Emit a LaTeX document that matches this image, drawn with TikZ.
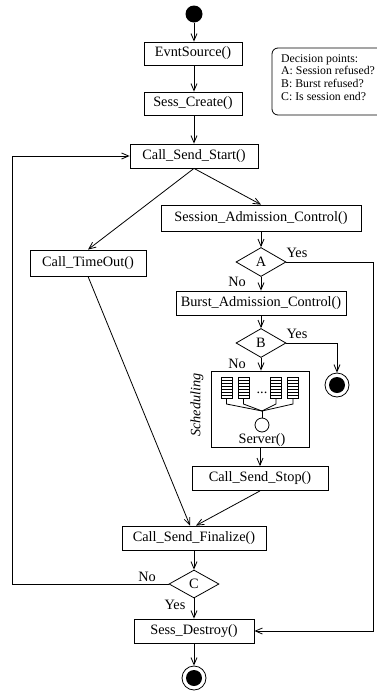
\documentclass[tikz,border=0pt]{standalone}
\usepackage{fontspec}
\setmainfont{Liberation Serif}
\usetikzlibrary{arrows.meta,shapes.geometric}
\tikzset{
  box/.style={draw, line width=0.8pt, minimum height=24pt, inner sep=0pt},
  dec/.style={draw, line width=0.8pt, shape=diamond, aspect=1.7, inner sep=0pt, minimum width=50pt, minimum height=29pt},
  flow/.style={line width=0.8pt, -{Straight Barb[length=7pt,width=6pt,line width=0.8pt]}},
  plain/.style={line width=0.8pt},
  lbl/.style={inner sep=0pt},
  endouter/.style={draw, line width=0.8pt, circle, minimum size=24pt, inner sep=0pt},
  endinner/.style={fill=black, circle, minimum size=16pt, inner sep=0pt},
}
\begin{document}
\begin{tikzpicture}[x=1pt,y=-1pt,font=\fontsize{14.3}{17}\selectfont]
\useasboundingbox (0,0) rectangle (377,694);
\clip (0,0) rectangle (377,694);

% start
\node[fill=black, circle, minimum size=17pt, inner sep=0pt] (start) at (194,14) {};
\node[box, minimum width=98pt, minimum height=23pt] (es) at (193,53.5) {EvntSource()};
\node[box, minimum width=98pt, minimum height=23pt] (sc) at (193,103.5) {Sess\_Create()};
\node[box, minimum width=128pt] (css) at (194,156) {Call\_Send\_Start()};
\node[box, minimum width=200pt, minimum height=26pt] (sac) at (261,218) {Session\_Admission\_Control()};
\node[box, minimum width=116pt, minimum height=26pt] (cto) at (88,263) {Call\_TimeOut()};
\node[dec] (A) at (261,262) {A};
\node[box, minimum width=170pt] (bac) at (261,303) {Burst\_Admission\_Control()};
\node[dec] (B) at (261,343) {B};
\node[endouter] (end1) at (337,385) {};
\node[endinner] (end1i) at (337,385) {};
\node[draw, line width=0.8pt, minimum width=98pt, minimum height=76pt, inner sep=0pt] (sched) at (260,409) {};
\node[box, minimum width=136pt] (stop) at (260,478.5) {Call\_Send\_Stop()};
\node[box, minimum width=144pt] (fin) at (194,538) {Call\_Send\_Finalize()};
\node[dec, minimum height=28pt] (C) at (194,584) {C};
\node[box, minimum width=120pt] (sd) at (194,631) {Sess\_Destroy()};
\node[endouter] (end2) at (194,678) {};
\node[endinner] (end2i) at (194,678) {};

% decision legend
\draw[line width=0.8pt, rounded corners=6pt] (272,48) rectangle (392,115);
\node[anchor=north west, align=left, inner sep=0pt, font=\fontsize{11.8}{12.7}\selectfont] (legend) at (281,54)
  {Decision points:\\A: Session refused?\\B: Burst refused?\\C: Is session end?};

% scheduling content
\node[lbl, rotate=90, font=\fontsize{14.3}{17}\selectfont\itshape] (schedlbl) at (197,405) {Scheduling};
\foreach \q/\xl in {q1/221,q2/238,q3/270.5,q4/287.5}{
  \draw[plain] (\xl,377) rectangle ++(11,21);
  \foreach \yy in {380,383,386,389,392,395}{\draw[line width=0.6pt] (\xl,\yy) -- ++(11,0);}
  \coordinate (\q) at ({\xl+5.5},398);
}
\node[lbl] (dots) at (262,393) {...};
\coordinate (junc) at (262,411);
\node[draw, line width=0.8pt, circle, minimum size=14pt, inner sep=0pt] (server) at (262,425) {};
\node[lbl] (servertxt) at (262,440) {Server()};
\foreach \q in {q1,q2,q3,q4}{
  \draw[plain] (\q) -- ++(0,6) -- (junc);
}
\draw[plain] (junc) -- (server.north);

% connectors
\draw[flow] (start) -- (start |- es.north);
\draw[flow] (start |- es.south) -- (start |- sc.north);
\draw[flow] (start |- sc.south) -- (css);
\draw[flow] (css.south) -- (sac.north);
\draw[flow] (css.south) -- (cto.north);
\draw[flow] (sac) -- (A);
\draw[flow] (A.south) -- (A.south |- bac.north);
\draw[flow] (bac.south -| B.north) -- (B.north);
\draw[flow] (B.south) -- (B.south |- sched.north);
\draw[flow] (B.east) -| (end1.north);
\draw[flow] (sched.south) -- (sched.south |- stop.north);
\draw[flow] (stop.south) -- ([xshift=2pt]fin.north);
\draw[flow] (cto.south) -- ([xshift=-4pt]fin.north);
\draw[flow] (fin) -- (C);
\draw[flow] (C) -- (sd);
\draw[flow] (sd) -- (end2);
\coordinate (cl) at (12,584);
\coordinate (ar) at (373,262);
\draw[flow] (C.west) -- (cl) |- (css.west);
\draw[flow] (A.east) -- (ar) |- (sd.east);

% labels
\node[lbl] (yA) at (297,253) {Yes};
\node[lbl] (nA) at (237,282) {No};
\node[lbl] (yB) at (297,334) {Yes};
\node[lbl] (nB) at (237,364) {No};
\node[lbl] (nC) at (147,577) {No};
\node[lbl] (yC) at (175,605) {Yes};
\end{tikzpicture}
\end{document}
